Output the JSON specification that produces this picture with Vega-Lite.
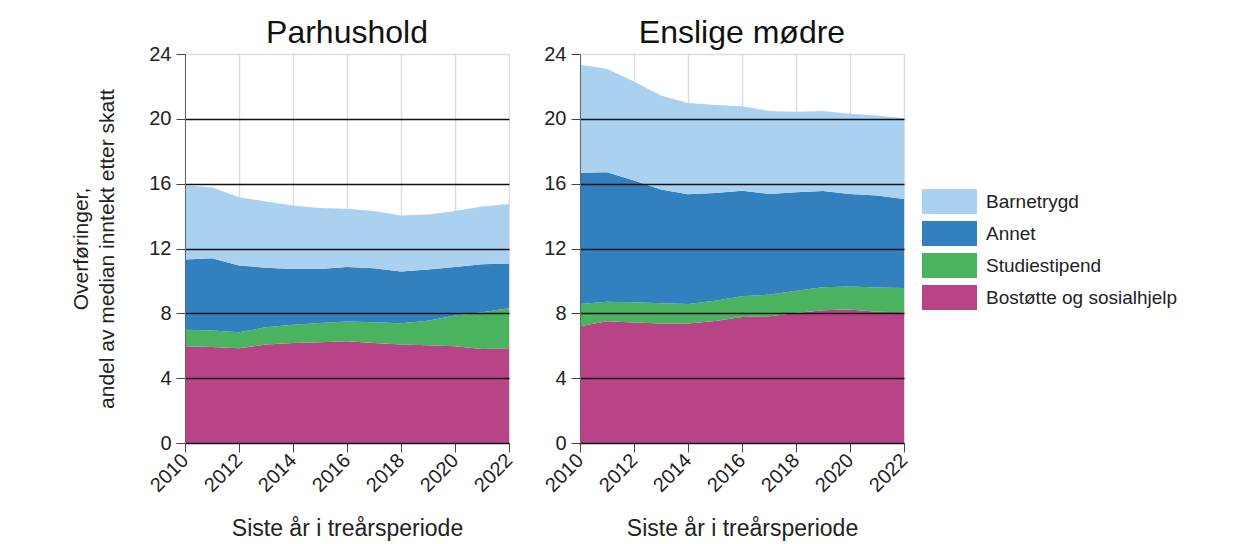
{
  "$schema": "https://vega.github.io/schema/vega-lite/v6.json",
  "background": "white",
  "padding": {"left": 70, "top": 16, "right": 5, "bottom": 5},
  "datasets": {
    "d": [
      {"gruppe": "Parhushold", "aar": 2010, "type": "Bostøtte og sosialhjelp", "nr": 1, "verdi": 5.97},
      {"gruppe": "Parhushold", "aar": 2011, "type": "Bostøtte og sosialhjelp", "nr": 1, "verdi": 5.93},
      {"gruppe": "Parhushold", "aar": 2012, "type": "Bostøtte og sosialhjelp", "nr": 1, "verdi": 5.84},
      {"gruppe": "Parhushold", "aar": 2013, "type": "Bostøtte og sosialhjelp", "nr": 1, "verdi": 6.07},
      {"gruppe": "Parhushold", "aar": 2014, "type": "Bostøtte og sosialhjelp", "nr": 1, "verdi": 6.17},
      {"gruppe": "Parhushold", "aar": 2015, "type": "Bostøtte og sosialhjelp", "nr": 1, "verdi": 6.21},
      {"gruppe": "Parhushold", "aar": 2016, "type": "Bostøtte og sosialhjelp", "nr": 1, "verdi": 6.28},
      {"gruppe": "Parhushold", "aar": 2017, "type": "Bostøtte og sosialhjelp", "nr": 1, "verdi": 6.17},
      {"gruppe": "Parhushold", "aar": 2018, "type": "Bostøtte og sosialhjelp", "nr": 1, "verdi": 6.07},
      {"gruppe": "Parhushold", "aar": 2019, "type": "Bostøtte og sosialhjelp", "nr": 1, "verdi": 6.03},
      {"gruppe": "Parhushold", "aar": 2020, "type": "Bostøtte og sosialhjelp", "nr": 1, "verdi": 5.97},
      {"gruppe": "Parhushold", "aar": 2021, "type": "Bostøtte og sosialhjelp", "nr": 1, "verdi": 5.8},
      {"gruppe": "Parhushold", "aar": 2022, "type": "Bostøtte og sosialhjelp", "nr": 1, "verdi": 5.84},
      {"gruppe": "Parhushold", "aar": 2010, "type": "Studiestipend", "nr": 2, "verdi": 1.01},
      {"gruppe": "Parhushold", "aar": 2011, "type": "Studiestipend", "nr": 2, "verdi": 1.01},
      {"gruppe": "Parhushold", "aar": 2012, "type": "Studiestipend", "nr": 2, "verdi": 0.99},
      {"gruppe": "Parhushold", "aar": 2013, "type": "Studiestipend", "nr": 2, "verdi": 1.07},
      {"gruppe": "Parhushold", "aar": 2014, "type": "Studiestipend", "nr": 2, "verdi": 1.13},
      {"gruppe": "Parhushold", "aar": 2015, "type": "Studiestipend", "nr": 2, "verdi": 1.19},
      {"gruppe": "Parhushold", "aar": 2016, "type": "Studiestipend", "nr": 2, "verdi": 1.21},
      {"gruppe": "Parhushold", "aar": 2017, "type": "Studiestipend", "nr": 2, "verdi": 1.28},
      {"gruppe": "Parhushold", "aar": 2018, "type": "Studiestipend", "nr": 2, "verdi": 1.32},
      {"gruppe": "Parhushold", "aar": 2019, "type": "Studiestipend", "nr": 2, "verdi": 1.52},
      {"gruppe": "Parhushold", "aar": 2020, "type": "Studiestipend", "nr": 2, "verdi": 1.89},
      {"gruppe": "Parhushold", "aar": 2021, "type": "Studiestipend", "nr": 2, "verdi": 2.27},
      {"gruppe": "Parhushold", "aar": 2022, "type": "Studiestipend", "nr": 2, "verdi": 2.47},
      {"gruppe": "Parhushold", "aar": 2010, "type": "Annet", "nr": 3, "verdi": 4.34},
      {"gruppe": "Parhushold", "aar": 2011, "type": "Annet", "nr": 3, "verdi": 4.46},
      {"gruppe": "Parhushold", "aar": 2012, "type": "Annet", "nr": 3, "verdi": 4.12},
      {"gruppe": "Parhushold", "aar": 2013, "type": "Annet", "nr": 3, "verdi": 3.68},
      {"gruppe": "Parhushold", "aar": 2014, "type": "Annet", "nr": 3, "verdi": 3.44},
      {"gruppe": "Parhushold", "aar": 2015, "type": "Annet", "nr": 3, "verdi": 3.34},
      {"gruppe": "Parhushold", "aar": 2016, "type": "Annet", "nr": 3, "verdi": 3.37},
      {"gruppe": "Parhushold", "aar": 2017, "type": "Annet", "nr": 3, "verdi": 3.33},
      {"gruppe": "Parhushold", "aar": 2018, "type": "Annet", "nr": 3, "verdi": 3.19},
      {"gruppe": "Parhushold", "aar": 2019, "type": "Annet", "nr": 3, "verdi": 3.15},
      {"gruppe": "Parhushold", "aar": 2020, "type": "Annet", "nr": 3, "verdi": 3.0},
      {"gruppe": "Parhushold", "aar": 2021, "type": "Annet", "nr": 3, "verdi": 2.96},
      {"gruppe": "Parhushold", "aar": 2022, "type": "Annet", "nr": 3, "verdi": 2.76},
      {"gruppe": "Parhushold", "aar": 2010, "type": "Barnetrygd", "nr": 4, "verdi": 4.56},
      {"gruppe": "Parhushold", "aar": 2011, "type": "Barnetrygd", "nr": 4, "verdi": 4.38},
      {"gruppe": "Parhushold", "aar": 2012, "type": "Barnetrygd", "nr": 4, "verdi": 4.21},
      {"gruppe": "Parhushold", "aar": 2013, "type": "Barnetrygd", "nr": 4, "verdi": 4.08},
      {"gruppe": "Parhushold", "aar": 2014, "type": "Barnetrygd", "nr": 4, "verdi": 3.91},
      {"gruppe": "Parhushold", "aar": 2015, "type": "Barnetrygd", "nr": 4, "verdi": 3.76},
      {"gruppe": "Parhushold", "aar": 2016, "type": "Barnetrygd", "nr": 4, "verdi": 3.6},
      {"gruppe": "Parhushold", "aar": 2017, "type": "Barnetrygd", "nr": 4, "verdi": 3.54},
      {"gruppe": "Parhushold", "aar": 2018, "type": "Barnetrygd", "nr": 4, "verdi": 3.45},
      {"gruppe": "Parhushold", "aar": 2019, "type": "Barnetrygd", "nr": 4, "verdi": 3.4},
      {"gruppe": "Parhushold", "aar": 2020, "type": "Barnetrygd", "nr": 4, "verdi": 3.46},
      {"gruppe": "Parhushold", "aar": 2021, "type": "Barnetrygd", "nr": 4, "verdi": 3.56},
      {"gruppe": "Parhushold", "aar": 2022, "type": "Barnetrygd", "nr": 4, "verdi": 3.68},
      {"gruppe": "Enslige mødre", "aar": 2010, "type": "Bostøtte og sosialhjelp", "nr": 1, "verdi": 7.2},
      {"gruppe": "Enslige mødre", "aar": 2011, "type": "Bostøtte og sosialhjelp", "nr": 1, "verdi": 7.51},
      {"gruppe": "Enslige mødre", "aar": 2012, "type": "Bostøtte og sosialhjelp", "nr": 1, "verdi": 7.43},
      {"gruppe": "Enslige mødre", "aar": 2013, "type": "Bostøtte og sosialhjelp", "nr": 1, "verdi": 7.37},
      {"gruppe": "Enslige mødre", "aar": 2014, "type": "Bostøtte og sosialhjelp", "nr": 1, "verdi": 7.37},
      {"gruppe": "Enslige mødre", "aar": 2015, "type": "Bostøtte og sosialhjelp", "nr": 1, "verdi": 7.53},
      {"gruppe": "Enslige mødre", "aar": 2016, "type": "Bostøtte og sosialhjelp", "nr": 1, "verdi": 7.78},
      {"gruppe": "Enslige mødre", "aar": 2017, "type": "Bostøtte og sosialhjelp", "nr": 1, "verdi": 7.82},
      {"gruppe": "Enslige mødre", "aar": 2018, "type": "Bostøtte og sosialhjelp", "nr": 1, "verdi": 8.02},
      {"gruppe": "Enslige mødre", "aar": 2019, "type": "Bostøtte og sosialhjelp", "nr": 1, "verdi": 8.19},
      {"gruppe": "Enslige mødre", "aar": 2020, "type": "Bostøtte og sosialhjelp", "nr": 1, "verdi": 8.23},
      {"gruppe": "Enslige mødre", "aar": 2021, "type": "Bostøtte og sosialhjelp", "nr": 1, "verdi": 8.1},
      {"gruppe": "Enslige mødre", "aar": 2022, "type": "Bostøtte og sosialhjelp", "nr": 1, "verdi": 8.07},
      {"gruppe": "Enslige mødre", "aar": 2010, "type": "Studiestipend", "nr": 2, "verdi": 1.38},
      {"gruppe": "Enslige mødre", "aar": 2011, "type": "Studiestipend", "nr": 2, "verdi": 1.21},
      {"gruppe": "Enslige mødre", "aar": 2012, "type": "Studiestipend", "nr": 2, "verdi": 1.25},
      {"gruppe": "Enslige mødre", "aar": 2013, "type": "Studiestipend", "nr": 2, "verdi": 1.25},
      {"gruppe": "Enslige mødre", "aar": 2014, "type": "Studiestipend", "nr": 2, "verdi": 1.21},
      {"gruppe": "Enslige mødre", "aar": 2015, "type": "Studiestipend", "nr": 2, "verdi": 1.25},
      {"gruppe": "Enslige mødre", "aar": 2016, "type": "Studiestipend", "nr": 2, "verdi": 1.27},
      {"gruppe": "Enslige mødre", "aar": 2017, "type": "Studiestipend", "nr": 2, "verdi": 1.33},
      {"gruppe": "Enslige mødre", "aar": 2018, "type": "Studiestipend", "nr": 2, "verdi": 1.38},
      {"gruppe": "Enslige mødre", "aar": 2019, "type": "Studiestipend", "nr": 2, "verdi": 1.42},
      {"gruppe": "Enslige mødre", "aar": 2020, "type": "Studiestipend", "nr": 2, "verdi": 1.42},
      {"gruppe": "Enslige mødre", "aar": 2021, "type": "Studiestipend", "nr": 2, "verdi": 1.49},
      {"gruppe": "Enslige mødre", "aar": 2022, "type": "Studiestipend", "nr": 2, "verdi": 1.5},
      {"gruppe": "Enslige mødre", "aar": 2010, "type": "Annet", "nr": 3, "verdi": 8.09},
      {"gruppe": "Enslige mødre", "aar": 2011, "type": "Annet", "nr": 3, "verdi": 7.99},
      {"gruppe": "Enslige mødre", "aar": 2012, "type": "Annet", "nr": 3, "verdi": 7.51},
      {"gruppe": "Enslige mødre", "aar": 2013, "type": "Annet", "nr": 3, "verdi": 7.02},
      {"gruppe": "Enslige mødre", "aar": 2014, "type": "Annet", "nr": 3, "verdi": 6.77},
      {"gruppe": "Enslige mødre", "aar": 2015, "type": "Annet", "nr": 3, "verdi": 6.65},
      {"gruppe": "Enslige mødre", "aar": 2016, "type": "Annet", "nr": 3, "verdi": 6.52},
      {"gruppe": "Enslige mødre", "aar": 2017, "type": "Annet", "nr": 3, "verdi": 6.22},
      {"gruppe": "Enslige mødre", "aar": 2018, "type": "Annet", "nr": 3, "verdi": 6.07},
      {"gruppe": "Enslige mødre", "aar": 2019, "type": "Annet", "nr": 3, "verdi": 5.94},
      {"gruppe": "Enslige mødre", "aar": 2020, "type": "Annet", "nr": 3, "verdi": 5.72},
      {"gruppe": "Enslige mødre", "aar": 2021, "type": "Annet", "nr": 3, "verdi": 5.68},
      {"gruppe": "Enslige mødre", "aar": 2022, "type": "Annet", "nr": 3, "verdi": 5.49},
      {"gruppe": "Enslige mødre", "aar": 2010, "type": "Barnetrygd", "nr": 4, "verdi": 6.66},
      {"gruppe": "Enslige mødre", "aar": 2011, "type": "Barnetrygd", "nr": 4, "verdi": 6.38},
      {"gruppe": "Enslige mødre", "aar": 2012, "type": "Barnetrygd", "nr": 4, "verdi": 6.11},
      {"gruppe": "Enslige mødre", "aar": 2013, "type": "Barnetrygd", "nr": 4, "verdi": 5.8},
      {"gruppe": "Enslige mødre", "aar": 2014, "type": "Barnetrygd", "nr": 4, "verdi": 5.62},
      {"gruppe": "Enslige mødre", "aar": 2015, "type": "Barnetrygd", "nr": 4, "verdi": 5.43},
      {"gruppe": "Enslige mødre", "aar": 2016, "type": "Barnetrygd", "nr": 4, "verdi": 5.21},
      {"gruppe": "Enslige mødre", "aar": 2017, "type": "Barnetrygd", "nr": 4, "verdi": 5.12},
      {"gruppe": "Enslige mødre", "aar": 2018, "type": "Barnetrygd", "nr": 4, "verdi": 4.96},
      {"gruppe": "Enslige mødre", "aar": 2019, "type": "Barnetrygd", "nr": 4, "verdi": 4.94},
      {"gruppe": "Enslige mødre", "aar": 2020, "type": "Barnetrygd", "nr": 4, "verdi": 4.94},
      {"gruppe": "Enslige mødre", "aar": 2021, "type": "Barnetrygd", "nr": 4, "verdi": 4.93},
      {"gruppe": "Enslige mødre", "aar": 2022, "type": "Barnetrygd", "nr": 4, "verdi": 4.98}
    ]
  },
  "bounds": "flush",
  "spacing": 71,
  "hconcat": [
    {
      "width": 324,
      "height": 389,
      "title": "Parhushold",
      "data": {"name": "d"},
      "transform": [{"filter": "datum.gruppe === 'Parhushold'"}],
      "mark": {"type": "area", "opacity": 1},
      "encoding": {
        "x": {"field": "aar", "type": "quantitative", "scale": {"domain": [2010, 2022], "nice": false, "zero": false},
              "axis": {"values": [2010, 2012, 2014, 2016, 2018, 2020, 2022], "format": "d", "title": "Siste år i treårsperiode", "zindex": 0}},
        "y": {"field": "verdi", "type": "quantitative", "stack": "zero", "scale": {"domain": [0, 24], "nice": false},
              "axis": {"values": [0, 4, 8, 12, 16, 20, 24], "zindex": 1, "title": ["Overføringer,", "andel av median inntekt etter skatt"]}},
        "color": {"field": "type", "type": "nominal",
                  "scale": {"domain": ["Barnetrygd", "Annet", "Studiestipend", "Bostøtte og sosialhjelp"], "range": ["#aad2f0", "#3380bf", "#4bb25f", "#b84488"]},
                  "legend": {"orient": "none", "legendX": 752, "legendY": 135, "title": null}},
        "order": {"field": "nr", "type": "quantitative"}
      }
    },
    {
      "width": 324,
      "height": 389,
      "title": "Enslige mødre",
      "data": {"name": "d"},
      "transform": [{"filter": "datum.gruppe === 'Enslige mødre'"}],
      "mark": {"type": "area", "opacity": 1},
      "encoding": {
        "x": {"field": "aar", "type": "quantitative", "scale": {"domain": [2010, 2022], "nice": false, "zero": false},
              "axis": {"values": [2010, 2012, 2014, 2016, 2018, 2020, 2022], "format": "d", "title": "Siste år i treårsperiode", "zindex": 0}},
        "y": {"field": "verdi", "type": "quantitative", "stack": "zero", "scale": {"domain": [0, 24], "nice": false},
              "axis": {"values": [0, 4, 8, 12, 16, 20, 24], "zindex": 1, "title": null}},
        "color": {"field": "type", "type": "nominal",
                  "scale": {"domain": ["Barnetrygd", "Annet", "Studiestipend", "Bostøtte og sosialhjelp"], "range": ["#aad2f0", "#3380bf", "#4bb25f", "#b84488"]},
                  "legend": {"orient": "none", "legendX": 752, "legendY": 135, "title": null}},
        "order": {"field": "nr", "type": "quantitative"}
      }
    }
  ],
  "config": {
    "font": "Liberation Sans",
    "view": {"stroke": "#dddddd", "strokeWidth": 1},
    "title": {"fontSize": 32, "fontWeight": "normal", "color": "#111", "offset": -6, "anchor": "middle"},
    "axis": {
      "labelFontSize": 20, "labelColor": "#222", "titleFontSize": 21, "titleFontWeight": "normal", "titleColor": "#222",
      "domainColor": "#666", "tickColor": "#444", "tickSize": 9, "labelPadding": 5
    },
    "axisX": {"grid": true, "gridColor": "#dddddd", "gridWidth": 1.5, "labelAngle": -45, "labelAlign": "right", "labelBaseline": "middle", "titlePadding": 22, "titleFontSize": 23, "domain": true, "labelPadding": 5},
    "axisY": {"grid": true, "gridWidth": 1.5,
              "gridColor": {"condition": {"test": "datum.value === 24", "value": "#dddddd"}, "value": "#111111"},
              "titlePadding": 31, "titleLineHeight": 26},
    "legend": {
      "symbolType": "M-2.2,-1H2.2V1H-2.2Z", "symbolSize": 625, "symbolStrokeWidth": 0, "symbolOpacity": 1,
      "labelFontSize": 19, "labelLimit": 400, "labelColor": "#222", "labelOffset": 24, "rowPadding": 7, "padding": 0
    }
  }
}
